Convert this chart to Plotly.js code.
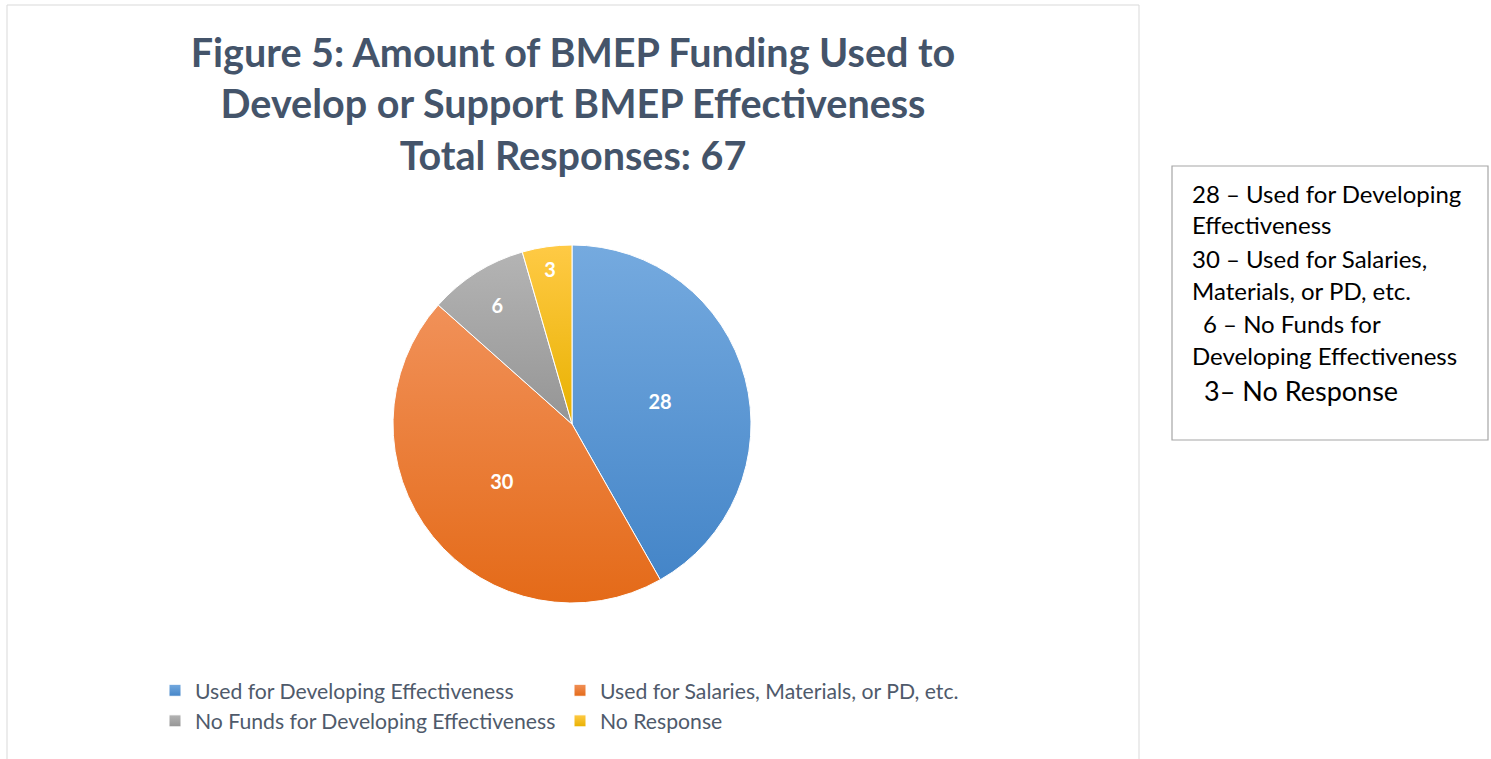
<!DOCTYPE html>
<html>
<head>
<meta charset="utf-8">
<script src="https://cdn.plot.ly/plotly-3.0.1.min.js"></script>
<style>
  html, body { margin: 0; padding: 0; background: #ffffff; }
  #chart { width: 1491px; height: 759px; }
</style>
</head>
<body>
<div id="chart"></div>
<script>
// ---- data ----
const categories = [
  'Used for Developing Effectiveness',
  'Used for Salaries, Materials, or PD, etc.',
  'No Funds for Developing Effectiveness',
  'No Response'
];
const values = [28, 30, 6, 3];
const sliceColors = ['#5B9BD5', '#ED7D31', '#A5A5A5', '#FFC000'];
const gradientTop = ['#75AADF', '#F19159', '#B4B4B4', '#FFCA45'];
const gradientBottom = ['#4485C8', '#E46A18', '#959595', '#E8B100'];
const titleLines = [
  'Figure 5: Amount of BMEP Funding Used to',
  'Develop or Support BMEP Effectiveness',
  'Total Responses: 67'
];
const boxLines = [
  '28 – Used for Developing',
  'Effectiveness',
  '30 – Used for Salaries,',
  'Materials, or PD, etc.',
  '6 – No Funds for',
  'Developing Effectiveness',
  '3– No Response'
];

// ---- geometry helpers (pixels -> paper) ----
const W = 1491, H = 759;
const M = { l: 160, r: 491, t: 230, b: 150 };
const GW = W - M.l - M.r, GH = H - M.t - M.b;
const px = x => (x - M.l) / GW;
const py = y => (H - M.b - y) / GH;

const FONT = 'Lato, "Open Sans", sans-serif';

const trace = {
  type: 'pie',
  labels: categories,
  values: values,
  sort: false,
  direction: 'clockwise',
  rotation: 0,
  texttemplate: '<b>%{value}</b>',
  textposition: 'inside',
  insidetextorientation: 'horizontal',
  textfont: { family: FONT, size: 20, color: '#ffffff' },
  marker: { colors: sliceColors, line: { color: '#ffffff', width: 1 } },
  domain: { x: [px(393), px(751)], y: [py(603), py(245)] },
  hoverinfo: 'none'
};

const boxX = [1193, 1193, 1193, 1193, 1204, 1193, 1205];
const boxY = [193, 225, 258, 290, 323, 355, 390];
const boxSize = [24, 24, 24, 24, 24, 24, 27];

const annotations = boxLines.map((t, i) => ({
  text: t, xref: 'paper', yref: 'paper',
  x: px(boxX[i] - 3), y: py(boxY[i]), xanchor: 'left', yanchor: 'middle',
  showarrow: false, align: 'left',
  font: { family: FONT, size: boxSize[i], color: '#000000' }
}));

const layout = {
  width: W, height: H,
  margin: M,
  paper_bgcolor: '#ffffff',
  plot_bgcolor: '#ffffff',
  title: {
    text: titleLines.map(s => '<b>' + s + '</b>').join('<br>'),
    font: { family: FONT, size: 39.5, color: '#44546A' },
    xref: 'paper', x: px(573), xanchor: 'center',
    yref: 'container', y: 1 - 67 / H, yanchor: 'middle'
  },
  showlegend: true,
  legend: {
    orientation: 'h',
    x: px(155), xanchor: 'left',
    y: py(670), yanchor: 'top',
    entrywidth: 360, entrywidthmode: 'pixels',
    font: { family: FONT, size: 21.2, color: '#4F5A6B' },
    bgcolor: 'rgba(0,0,0,0)'
  },
  shapes: [
    { type: 'rect', xref: 'paper', yref: 'paper', layer: 'below',
      x0: px(7), x1: px(1139), y0: py(770), y1: py(5),
      line: { color: '#D9D9D9', width: 1 }, fillcolor: 'rgba(0,0,0,0)' },
    { type: 'rect', xref: 'paper', yref: 'paper',
      x0: px(1172), x1: px(1488), y0: py(440), y1: py(166),
      line: { color: '#A6A6A6', width: 1.2 }, fillcolor: 'rgba(0,0,0,0)' }
  ],
  annotations: annotations
};

Plotly.newPlot('chart', [trace], layout, { staticPlot: true, displayModeBar: false }).then(gd => {
  const svg = gd.querySelector('svg.main-svg');
  const NS = 'http://www.w3.org/2000/svg';
  let defs = svg.querySelector('defs');
  if (!defs) { defs = document.createElementNS(NS, 'defs'); svg.insertBefore(defs, svg.firstChild); }
  sliceColors.forEach((c, i) => {
    const g = document.createElementNS(NS, 'linearGradient');
    g.setAttribute('id', 'sliceGrad' + i);
    g.setAttribute('x1', '0'); g.setAttribute('y1', '0');
    g.setAttribute('x2', '0'); g.setAttribute('y2', '1');
    const s1 = document.createElementNS(NS, 'stop');
    s1.setAttribute('offset', '0'); s1.setAttribute('stop-color', gradientTop[i]);
    const s2 = document.createElementNS(NS, 'stop');
    s2.setAttribute('offset', '1'); s2.setAttribute('stop-color', gradientBottom[i]);
    g.appendChild(s1); g.appendChild(s2);
    defs.appendChild(g);
  });
  gd.querySelectorAll('g.slice').forEach((sl, i) => {
    const p = sl.querySelector('path.surface');
    if (p) p.style.fill = 'url(#sliceGrad' + (i % sliceColors.length) + ')';
  });
  gd.querySelectorAll('g.legend g.traces').forEach((tr, i) => {
    const p = tr.querySelector('path.legendpie');
    if (p) p.style.fill = 'url(#sliceGrad' + (i % sliceColors.length) + ')';
  });
});
</script>
</body>
</html>
